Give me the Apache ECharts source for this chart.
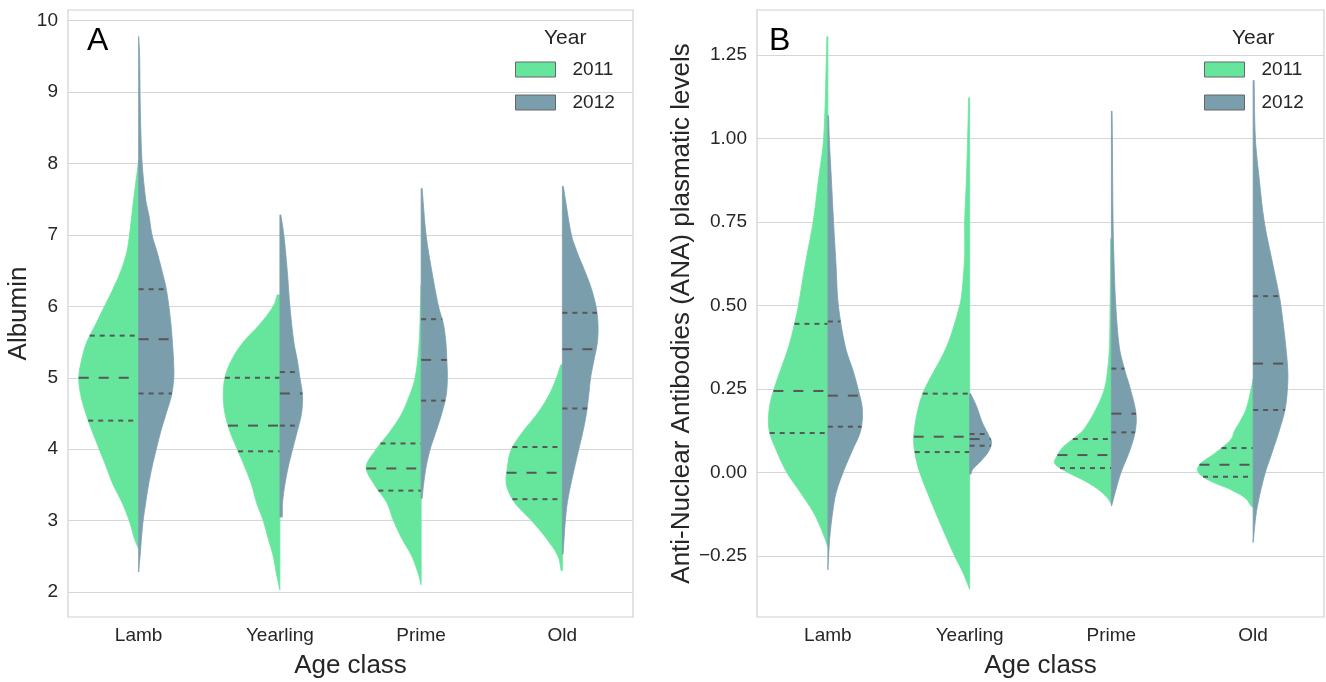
<!DOCTYPE html>
<html><head><meta charset="utf-8">
<script src="https://cdn.jsdelivr.net/npm/echarts@6/dist/echarts.min.js"></script>
<style>html,body{margin:0;padding:0;background:#fff}#c{width:1326px;height:682px}</style>
</head><body><div id="c"></div>
<script>
const categories = ['Lamb', 'Yearling', 'Prime', 'Old'];
const years = ['2011', '2012'];
const albTicks = [2, 3, 4, 5, 6, 7, 8, 9, 10];
const anaTicks = [-0.25, 0, 0.25, 0.5, 0.75, 1.0, 1.25];
const albRange = [1.65, 10.15];
const anaRange = [-0.433, 1.385];

// violin outlines: [value, half-width as fraction of category band], from top to bottom
const albLamb2011 = [[8.05,0],[7.5,.035],[7.0,.065],[6.75,.085],[6.5,.125],[6.25,.18],[6.0,.242],[5.75,.304],[5.5,.367],[5.25,.404],[5.0,.424],[4.75,.409],[4.5,.374],[4.25,.329],[4.0,.279],[3.75,.229],[3.5,.18],[3.25,.117],[3.0,.067],[2.75,.03],[2.6,0]];
const albLamb2012 = [[9.78,0],[9.5,.007],[9.0,.01],[8.5,.015],[8.0,.025],[7.5,.05],[7.25,.075],[7.0,.095],[6.75,.132],[6.5,.165],[6.25,.195],[6.0,.214],[5.75,.229],[5.5,.239],[5.25,.247],[5.0,.249],[4.75,.232],[4.5,.195],[4.25,.157],[4.0,.125],[3.75,.095],[3.5,.07],[3.25,.05],[3.0,.032],[2.75,.02],[2.5,.01],[2.28,0]];
const albYear2011 = [[6.16,0],[6.16,.019],[6.0,.047],[5.75,.142],[5.5,.259],[5.25,.342],[5.0,.389],[4.75,.401],[4.5,.389],[4.25,.354],[4.0,.302],[3.75,.248],[3.5,.2],[3.25,.165],[3.0,.118],[2.75,.083],[2.5,.047],[2.25,.024],[2.03,0]];
const albYear2012 = [[7.28,0],[7.28,.007],[7.0,.028],[6.5,.052],[6.0,.071],[5.5,.099],[5.25,.123],[5.0,.142],[4.75,.16],[4.5,.153],[4.25,.123],[4.0,.09],[3.75,.059],[3.5,.035],[3.25,.019],[3.05,.017],[3.05,0]];
const albPrime2011 = [[6.3,0],[6.0,.005],[5.5,.014],[5.0,.042],[4.75,.083],[4.5,.137],[4.25,.219],[4.0,.318],[3.75,.389],[3.5,.33],[3.25,.243],[3.0,.196],[2.75,.137],[2.5,.066],[2.25,.019],[2.1,0]];
const albPrime2012 = [[7.65,0],[7.65,.007],[7.0,.035],[6.5,.075],[6.0,.123],[5.75,.158],[5.5,.175],[5.25,.182],[5.0,.186],[4.75,.177],[4.5,.146],[4.25,.106],[4.0,.064],[3.75,.035],[3.5,.017],[3.31,.007],[3.31,0]];
const albOld2011 = [[5.18,0],[5.18,.012],[5.0,.042],[4.75,.097],[4.5,.177],[4.25,.278],[4.0,.361],[3.75,.389],[3.5,.396],[3.25,.337],[3.0,.219],[2.75,.113],[2.5,.031],[2.3,.009],[2.3,0]];
const albOld2012 = [[7.68,0],[7.68,.007],[7.5,.021],[7.0,.064],[6.75,.106],[6.5,.158],[6.25,.205],[6.0,.238],[5.75,.252],[5.5,.248],[5.25,.224],[5.0,.2],[4.75,.186],[4.5,.17],[4.25,.146],[4.0,.116],[3.75,.087],[3.5,.059],[3.25,.035],[3.0,.021],[2.75,.012],[2.53,.005],[2.53,0]];
// quartiles per category: [q75, median, q25]
const albQ2011 = [[5.59,5.0,4.40],[5.0,4.33,3.97],[4.08,3.73,3.42],[4.03,3.67,3.30]];
const albQ2012 = [[6.24,5.54,4.78],[5.08,4.78,4.33],[5.82,5.25,4.68],[5.91,5.40,4.57]];

const anaLamb2011 = [[1.305,0],[1.305,.007],[1.25,.01],[1.0,.03],[0.875,.067],[0.75,.104],[0.625,.159],[0.5,.208],[0.45,.233],[0.375,.278],[0.25,.38],[0.19,.414],[0.125,.414],[0.0625,.36],[0,.29],[-0.0625,.19],[-0.125,.095],[-0.1875,.03],[-0.224,0]];
const anaLamb2012 = [[1.068,0],[1.068,.005],[1.0,.01],[0.875,.025],[0.75,.04],[0.625,.057],[0.5,.074],[0.375,.124],[0.3,.181],[0.25,.213],[0.19,.243],[0.125,.231],[0.0625,.169],[0,.107],[-0.0625,.057],[-0.125,.032],[-0.1875,.015],[-0.25,.005],[-0.292,0]];
const anaYear2011 = [[1.122,0],[1.122,.007],[1.0,.014],[0.875,.023],[0.75,.035],[0.65,.035],[0.55,.052],[0.5,.07],[0.375,.164],[0.25,.317],[0.19,.364],[0.11,.394],[0.06,.387],[0,.352],[-0.125,.235],[-0.25,.106],[-0.3,.047],[-0.35,0]];
const anaYear2012 = [[0.236,0],[0.236,.007],[0.2,.047],[0.15,.089],[0.11,.136],[0.09,.155],[0.06,.129],[0.03,.07],[0.01,.023],[-0.005,.009],[-0.005,0]];
const anaPrime2011 = [[0.7,0],[0.7,.005],[0.5,.009],[0.375,.014],[0.31,.026],[0.25,.049],[0.19,.108],[0.125,.202],[0.1,.272],[0.075,.343],[0.05,.383],[0.025,.397],[0,.308],[-0.025,.19],[-0.05,.096],[-0.075,.031],[-0.095,0]];
const anaPrime2012 = [[1.082,0],[1.082,.005],[1.0,.007],[0.75,.012],[0.6,.021],[0.5,.031],[0.375,.056],[0.31,.092],[0.25,.134],[0.175,.174],[0.12,.167],[0.0625,.127],[0,.068],[-0.05,.033],[-0.1,.002],[-0.1,0]];
const anaOld2011 = [[0.28,0],[0.25,.014],[0.19,.049],[0.15,.096],[0.125,.131],[0.1,.154],[0.075,.217],[0.05,.294],[0.025,.375],[0,.387],[-0.025,.305],[-0.05,.166],[-0.075,.061],[-0.1,.014],[-0.105,0]];
const anaOld2012 = [[1.174,0],[1.174,.007],[1.0,.016],[0.875,.044],[0.75,.079],[0.625,.138],[0.53,.184],[0.5,.196],[0.375,.231],[0.3,.245],[0.25,.242],[0.19,.226],[0.125,.184],[0.05,.126],[0,.086],[-0.0625,.049],[-0.125,.021],[-0.21,0]];
const anaQ2011 = [[0.445,0.244,0.118],[0.236,0.107,0.061],[0.1,0.052,0.013],[0.073,0.023,-0.013]];
const anaQ2012 = [[0.452,0.23,0.137],[0.115,0.10,0.08],[0.311,0.176,0.12],[0.528,0.326,0.187]];

const COLORS = ['#66E69D', '#7B9EAD'];
const LINE = '#575757';
const FONT = 'Liberation Sans, Arial, Helvetica, sans-serif';
const TXT = '#262626';

// smooth outline: cubic Hermite of width as a function of value (drawing only)
function smoothOutline(prof, n) {
  const runs = [];
  let cur = [prof[0]];
  for (let k = 1; k < prof.length; k++) {
    if (prof[k][0] === prof[k - 1][0]) { runs.push(cur); cur = [prof[k]]; }
    else cur.push(prof[k]);
  }
  runs.push(cur);
  const out = [];
  runs.forEach(run => {
    const m = run.length;
    if (m < 3) { run.forEach(p => out.push(p)); return; }
    const tan = run.map((p, k) => {
      const a = run[Math.max(k - 1, 0)], b = run[Math.min(k + 1, m - 1)];
      return (b[1] - a[1]) / (b[0] - a[0]);
    });
    for (let k = 0; k < m - 1; k++) {
      const v0 = run[k][0], v1 = run[k + 1][0], w0 = run[k][1], w1 = run[k + 1][1];
      const h = v1 - v0;
      for (let s = 0; s < n; s++) {
        const t = s / n, t2 = t * t, t3 = t2 * t;
        const w = (2 * t3 - 3 * t2 + 1) * w0 + (t3 - 2 * t2 + t) * h * tan[k] + (-2 * t3 + 3 * t2) * w1 + (t3 - t2) * h * tan[k + 1];
        out.push([v0 + t * h, Math.max(0, w)]);
      }
    }
    out.push(run[m - 1]);
  });
  return out;
}
function widthAt(prof, q) {
  for (let k = 0; k < prof.length - 1; k++) {
    const a = prof[k], b = prof[k + 1];
    if (q <= a[0] && q >= b[0]) {
      if (a[0] === b[0]) return Math.max(a[1], b[1]);
      const t = (a[0] - q) / (a[0] - b[0]);
      return a[1] + t * (b[1] - a[1]);
    }
  }
  return 0;
}

function violinSeries(name, gi, profiles, quarts, side, color) {
  const smoothed = profiles.map(p => smoothOutline(p, 8));
  return {
    type: 'custom', name: name, xAxisIndex: gi, yAxisIndex: gi,
    itemStyle: { color: color },
    data: categories.map((c, i) => [i, quarts[i][1]]),
    encode: { x: 0, y: 1 },
    renderItem: function (params, api) {
      const i = params.dataIndex;
      const prof = smoothed[i];
      const band = api.size([1, 0])[0];
      const top = api.coord([i, prof[0][0]]);
      const bot = api.coord([i, prof[prof.length - 1][0]]);
      const edge = prof.map(([v, w]) => { const p = api.coord([i, v]); return [p[0] + side * w * band, p[1]]; });
      const children = [{
        type: 'polygon', shape: { points: [top].concat(edge, [bot]) },
        style: { fill: color, stroke: color, lineWidth: 0.8 }
      }];
      quarts[i].forEach((q, k) => {
        const w = widthAt(prof, q);
        const p = api.coord([i, q]);
        const x2 = p[0] + side * w * band;
        const xa = side < 0 ? x2 : p[0], xb = side < 0 ? p[0] : x2;
        children.push({
          type: 'line', shape: { x1: xa, y1: p[1], x2: xb, y2: p[1] },
          style: { stroke: LINE, lineWidth: 2, lineDash: k === 1 ? [10, 10] : [5, 5] }
        });
      });
      return { type: 'group', children: children };
    }
  };
}

function xAxisCfg(gi) {
  return {
    type: 'category', gridIndex: gi, data: categories, boundaryGap: true,
    axisLine: { show: false }, axisTick: { show: false }, splitLine: { show: false },
    axisLabel: { fontSize: 19, color: TXT, fontFamily: FONT, margin: 9 },
    name: 'Age class', nameLocation: 'middle', nameGap: 36,
    nameTextStyle: { fontSize: 26, color: TXT, fontFamily: FONT }
  };
}
function yAxisCfg(gi, range, ticks, name, gap, fmt) {
  return {
    type: 'value', gridIndex: gi, min: range[0], max: range[1],
    axisLine: { show: false },
    axisTick: { show: false, customValues: ticks },
    axisLabel: { customValues: ticks, fontSize: 19, color: TXT, fontFamily: FONT, margin: 10, formatter: fmt },
    splitLine: { show: true, lineStyle: { color: '#d6d6d6', width: 1.2 } },
    name: name, nameLocation: 'middle', nameGap: gap,
    nameTextStyle: { fontSize: 26, color: TXT, fontFamily: FONT }
  };
}

const chart = echarts.init(document.getElementById('c'));
chart.setOption({
  animation: false,
  backgroundColor: '#ffffff',
  title: [
    { text: 'A', left: 87, top: 25, padding: 0, textStyle: { fontSize: 32, fontWeight: 'normal', color: '#000', fontFamily: FONT } },
    { text: 'B', left: 769, top: 25, padding: 0, textStyle: { fontSize: 32, fontWeight: 'normal', color: '#000', fontFamily: FONT } },
    { text: 'Year', left: 544, top: 28, padding: 0, textStyle: { fontSize: 21, fontWeight: 'normal', color: TXT, fontFamily: FONT } },
    { text: 'Year', left: 1232, top: 28, padding: 0, textStyle: { fontSize: 21, fontWeight: 'normal', color: TXT, fontFamily: FONT } }
  ],
  legend: [0, 1].map(gi => ({
    data: years, orient: 'vertical', left: gi === 0 ? 515 : 1204, top: 60, padding: 0,
    icon: 'rect', itemWidth: 40, itemHeight: 15, itemGap: 14,
    itemStyle: { borderColor: '#666', borderWidth: 1 },
    textStyle: { fontSize: 19, color: TXT, fontFamily: FONT, lineHeight: 16, padding: [0, 0, 0, 12] },
    selectedMode: false
  })),
  grid: [
    { left: 68, right: 693, top: 10, bottom: 65, show: true, borderColor: '#d0d0d0', borderWidth: 1.2, backgroundColor: 'transparent', outerBoundsMode: 'none', containLabel: false },
    { left: 757, right: 2, top: 10, bottom: 65, show: true, borderColor: '#d0d0d0', borderWidth: 1.2, backgroundColor: 'transparent', outerBoundsMode: 'none', containLabel: false }
  ],
  xAxis: [xAxisCfg(0), xAxisCfg(1)],
  yAxis: [
    yAxisCfg(0, albRange, albTicks, 'Albumin', 36, v => String(Math.round(v))),
    yAxisCfg(1, anaRange, anaTicks, 'Anti-Nuclear Antibodies (ANA) plasmatic levels', 60, v => (v < 0 ? '\u2212' : '') + Math.abs(v).toFixed(2))
  ],
  series: [
    violinSeries('2011', 0, [albLamb2011, albYear2011, albPrime2011, albOld2011], albQ2011, -1, COLORS[0]),
    violinSeries('2012', 0, [albLamb2012, albYear2012, albPrime2012, albOld2012], albQ2012, 1, COLORS[1]),
    violinSeries('2011', 1, [anaLamb2011, anaYear2011, anaPrime2011, anaOld2011], anaQ2011, -1, COLORS[0]),
    violinSeries('2012', 1, [anaLamb2012, anaYear2012, anaPrime2012, anaOld2012], anaQ2012, 1, COLORS[1])
  ]
});
</script></body></html>
